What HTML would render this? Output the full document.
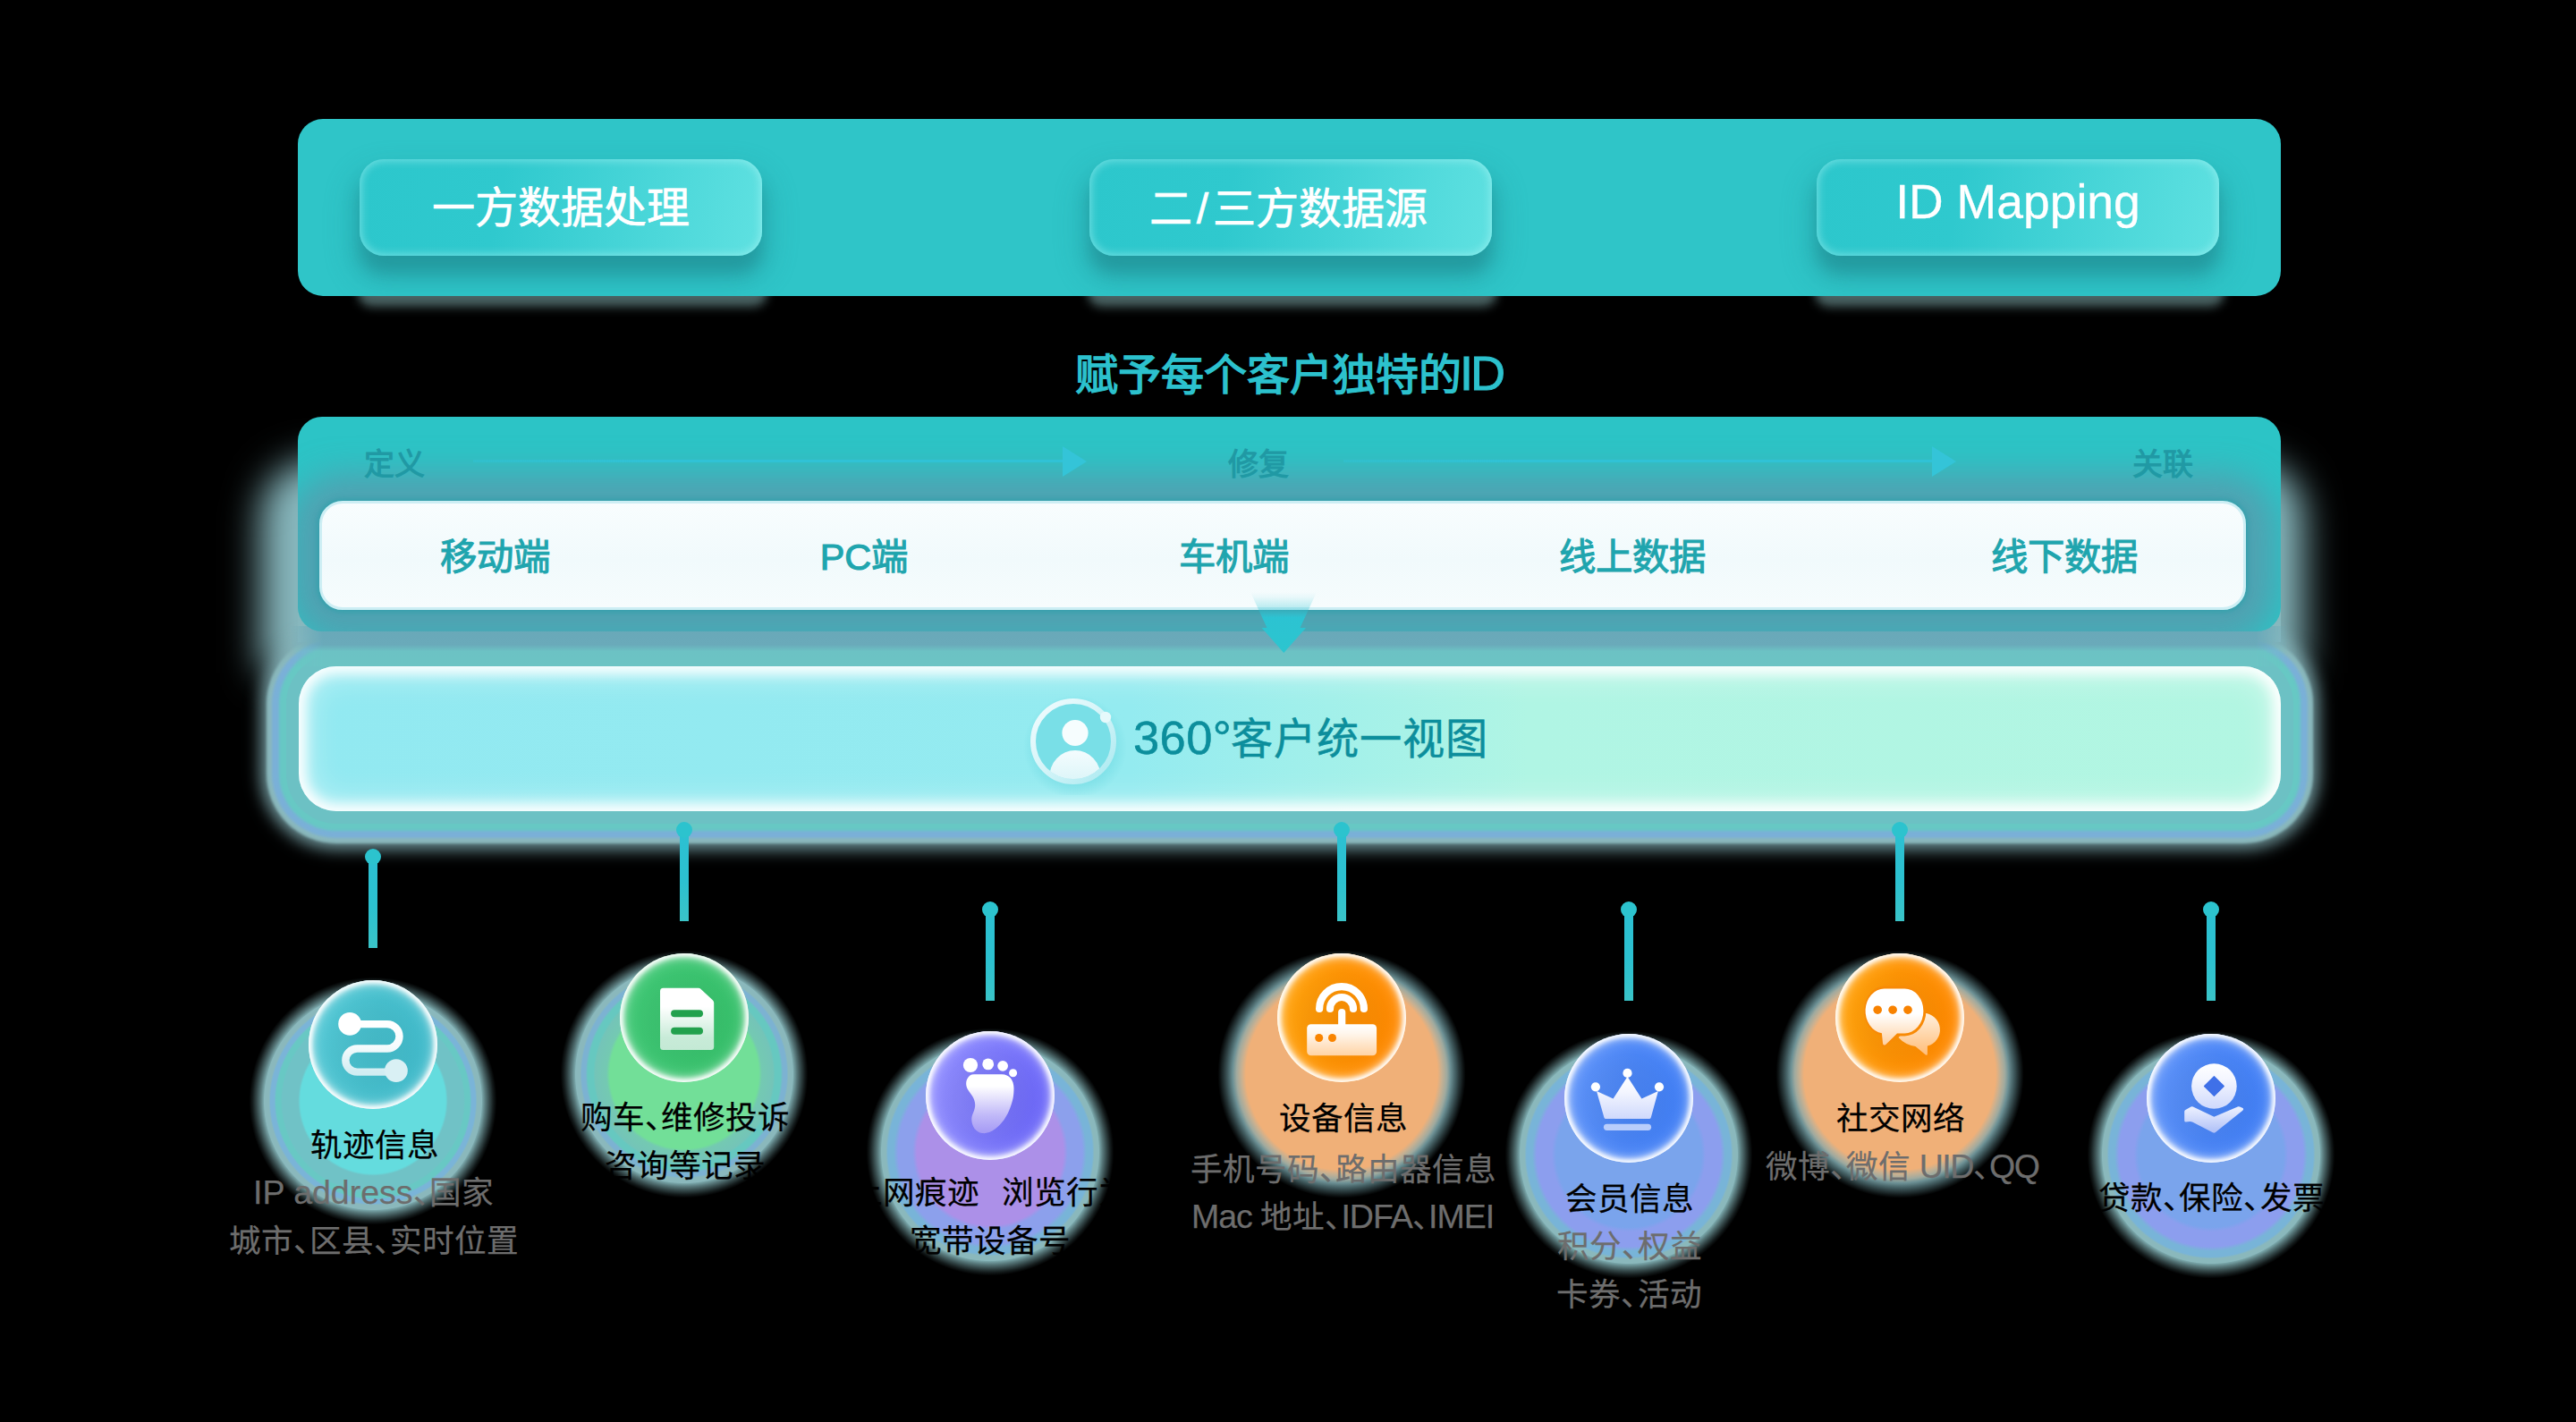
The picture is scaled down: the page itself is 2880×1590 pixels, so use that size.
<!DOCTYPE html>
<html lang="zh-CN">
<head>
<meta charset="utf-8">
<title>ID Mapping</title>
<style>
html,body{margin:0;padding:0;background:#000;}
body{width:2880px;height:1590px;position:relative;overflow:hidden;font-family:"Liberation Sans",sans-serif;}
.abs{position:absolute;}
/* ---------- top banner ---------- */
#banner{position:absolute;left:333px;top:133px;width:2217px;height:198px;border-radius:28px;background:#2fc5c8;}
.btn{position:absolute;top:45px;width:450px;height:108px;border-radius:27px;box-sizing:border-box;
  background:linear-gradient(100deg,#2cc7cc 0%,#2fc9ce 35%,#5fe1e1 100%);
  box-shadow:0 20px 18px 0 rgba(26,112,118,.36),0 20px 32px 8px rgba(30,140,146,.32),inset 0 0 10px 2px rgba(190,250,250,.45);
  color:#fff;font-size:48px;line-height:108px;-webkit-text-stroke:.7px #fff;text-align:center;white-space:nowrap;}
.spill{position:absolute;top:316px;width:440px;height:14px;border-radius:14px;box-shadow:0 4px 11px 9px rgba(150,196,196,.5);}
/* ---------- title ---------- */
#title{position:absolute;left:941px;top:376.5px;width:1000px;height:80px;line-height:80px;text-align:center;
  font-size:48px;font-weight:bold;color:#2cc1cd;white-space:nowrap;}
#title span{font-size:54px;font-weight:normal;-webkit-text-stroke:1px #2cc1cd;letter-spacing:-3px;margin-left:-2px;}
/* ---------- panel 2 ---------- */
#p2glow{position:absolute;left:333px;top:548px;width:2217px;height:170px;border-radius:30px 30px 0 0;
  background:#88b8be;box-shadow:-8px 0 40px 34px rgba(136,184,190,1);}
#p2{position:absolute;left:333px;top:466px;width:2217px;height:240px;border-radius:27px;background:#2cc4c6;overflow:hidden;}
#p2 .shade{position:absolute;left:24px;top:94px;width:2154px;height:122px;border-radius:26px;
  box-shadow:0 4px 36px 34px rgba(104,140,164,.62);}
#p2box{position:absolute;left:357px;top:560px;width:2154px;height:122px;border-radius:26px;box-sizing:border-box;
  border:3px solid #cdeef4;background:linear-gradient(180deg,#f8fdfe 0%,#f1fafc 55%,#f6fcfd 100%);box-shadow:0 0 5px 3px rgba(36,160,170,.55);}
.step{position:absolute;top:489px;height:60px;line-height:60px;font-size:34px;font-weight:bold;color:#2099a4;white-space:nowrap;}
.p2t{position:absolute;top:588px;height:70px;line-height:70px;width:400px;text-align:center;font-size:41.4px;font-weight:normal;-webkit-text-stroke:1.1px #1fa5ae;color:#1fa5ae;white-space:nowrap;}
.hline{position:absolute;height:3.4px;top:513.8px;background:linear-gradient(90deg,rgba(48,194,214,.5),#30c2d6 30%);}
.htri{position:absolute;top:498.6px;width:0;height:0;border-left:27px solid #34c4d8;border-top:17px solid transparent;border-bottom:17px solid transparent;}
/* ---------- panel 3 ---------- */
#p3{position:absolute;left:334px;top:745px;width:2216px;height:162px;border-radius:42px;
  background:linear-gradient(90deg,#92e9f1 0%,#94ebf0 42%,#b0f5e4 62%,#b2f6e2 100%);
  box-shadow:inset 0 0 14px 8px rgba(255,255,255,.95),inset 0 0 34px 10px rgba(255,255,255,.45),
   0 0 0 14px #6cc1c4,0 0 3px 22px #67c8c4,0 0 3px 30px #7ab0d8,0 0 3px 36px #8ab8bc,0 0 17px 43px rgba(138,186,192,.78);}
#strip{position:absolute;left:325px;top:700px;width:2233px;-webkit-mask-image:linear-gradient(90deg,transparent 0,#000 36px,#000 2197px,transparent 2233px);mask-image:linear-gradient(90deg,transparent 0,#000 36px,#000 2197px,transparent 2233px);height:45px;background:linear-gradient(180deg,#69a8b8 0,#6aaaba 21px,#6cc2c4 28px,#6cc4c4 45px);}
#p3t{position:absolute;left:1267px;top:783px;height:84px;line-height:84px;font-size:47.2px;letter-spacing:1px;color:#0c8e9c;white-space:nowrap;-webkit-text-stroke:.5px #0c8e9c;}
#p3t span{font-size:52.5px;letter-spacing:.4px;margin-right:-1px;}

/* ---------- connectors ---------- */
.cn{position:absolute;width:10px;height:102px;margin-left:-5px;background:linear-gradient(180deg,#2cc0d2 0%,#2cc1d0 55%,#3ac4c8 100%);}
.cn:before{content:"";position:absolute;left:-4px;top:-9px;width:18px;height:18px;border-radius:50%;background:#2cc3ce;}
/* ---------- icon glows ---------- */
.glow{position:absolute;width:280px;height:280px;margin-left:-140px;margin-top:-77px;border-radius:50%;}
.g-cyan{background:radial-gradient(circle closest-side,#64dcde 0,#64dcde 58%,#70c2c6 59.8%,#70c2c6 72.4%,#68c8c4 73.6%,#68c8c4 77.4%,#7ab4d8 78.8%,#7ab4d8 81.8%,#8ab8bc 83.2%,#8ab8bc 86.8%,rgba(140,192,196,.86) 87.4%,rgba(140,192,196,.62) 90%,rgba(140,192,196,.36) 93.2%,rgba(140,192,196,.14) 96.2%,rgba(140,192,196,0) 98.8%);}
.g-green{background:radial-gradient(circle closest-side,#72df98 0,#72df98 59.5%,#74c9b2 62%,#74c4b8 71%,#66c8c0 72.6%,#66c8c0 77%,#7cb2d2 78.8%,#7cb2d2 81.8%,#8ab8bc 83.2%,#8ab8bc 86.8%,rgba(140,192,196,.86) 87.4%,rgba(140,192,196,.62) 90%,rgba(140,192,196,.36) 93.2%,rgba(140,192,196,.14) 96.2%,rgba(140,192,196,0) 98.8%);}
.g-purple{background:radial-gradient(circle closest-side,#ac90e8 0,#ac90e8 58.5%,#8ca0ec 62%,#8ca0ec 73.5%,#78b4d8 77%,#78b4d8 81.6%,#8ab8bc 83.2%,#8ab8bc 86.8%,rgba(140,192,196,.86) 87.4%,rgba(140,192,196,.62) 90%,rgba(140,192,196,.36) 93.2%,rgba(140,192,196,.14) 96.2%,rgba(140,192,196,0) 98.8%);}
.g-orange{background:radial-gradient(circle closest-side,#f0b078 0,#f0b078 76.5%,rgba(206,182,150,.97) 80%,rgba(176,188,176,.9) 84%,rgba(150,200,206,.72) 87%,rgba(140,196,204,.5) 90.5%,rgba(140,196,204,.28) 94%,rgba(140,196,204,.1) 97%,rgba(140,196,204,0) 99%);}
.g-blue{background:radial-gradient(circle closest-side,#7aa4ec 0,#7aa4ec 58%,#8c9eee 61.5%,#8c9eee 73.5%,#78b4d8 77%,#78b4d8 81.6%,#8ab8bc 83.2%,#8ab8bc 86.8%,rgba(140,192,196,.86) 87.4%,rgba(140,192,196,.62) 90%,rgba(140,192,196,.36) 93.2%,rgba(140,192,196,.14) 96.2%,rgba(140,192,196,0) 98.8%);}
/* ---------- icon circles ---------- */
.ic{position:absolute;width:144px;height:144px;margin-left:-72px;margin-top:-72px;border-radius:50%;
  box-shadow:inset 0 0 5px 2.5px #fff,inset 0 0 9px 4px rgba(255,255,255,.75),inset 0 0 18px 5px rgba(255,255,255,.3);}
.ic svg{position:absolute;left:0;top:0;width:144px;height:144px;}
.i-cyan{background:linear-gradient(100deg,#56cad7 0%,#47c0ce 50%,#40bacb 100%);}
.i-green{background:linear-gradient(100deg,#40c976 0%,#36c06a 100%);}
.i-purple{background:linear-gradient(100deg,#9592ff 0%,#7f7cfc 45%,#6661f8 100%);}
.i-orange{background:linear-gradient(100deg,#ffa60e 0%,#ff9404 45%,#ff8600 100%);}
.i-blue{background:linear-gradient(100deg,#6296fa 0%,#4b86f7 50%,#3f7ef6 100%);}
/* ---------- labels ---------- */
.lb{position:absolute;width:600px;margin-left:-300px;height:54px;line-height:54px;text-align:center;font-size:35.6px;color:#000;white-space:nowrap;-webkit-text-stroke:.25px #000;}
.gr{color:#6d6d6d;-webkit-text-stroke:.25px #6d6d6d;}
.la{font-size:37.5px;letter-spacing:0;}
#t4c .la{letter-spacing:-1px;}
#t6b .la{letter-spacing:-1.5px;}
.c{margin-right:-.5em;}
</style>
</head>
<body>

<svg width="0" height="0" style="position:absolute">
  <defs>
    <linearGradient id="gw-cyan" x1="0" y1="0" x2="0" y2="1"><stop offset="0" stop-color="#fff"/><stop offset=".45" stop-color="#f6fcfd"/><stop offset="1" stop-color="#d2edf2"/></linearGradient>
    <linearGradient id="gw-green" x1="0" y1="0" x2="0" y2="1"><stop offset="0" stop-color="#fff"/><stop offset=".3" stop-color="#fff"/><stop offset=".8" stop-color="#c8ebd8"/><stop offset="1" stop-color="#c4e9d5"/></linearGradient>
    <linearGradient id="gw-purple" x1="0" y1="0" x2="0" y2="1"><stop offset="0" stop-color="#fff"/><stop offset=".2" stop-color="#fff"/><stop offset=".7" stop-color="#c0b8f8"/><stop offset="1" stop-color="#a59af5"/></linearGradient>
    <linearGradient id="gw-orange" x1="0" y1="0" x2="0" y2="1"><stop offset="0" stop-color="#fff"/><stop offset=".3" stop-color="#fff6ec"/><stop offset="1" stop-color="#ffd3a4"/></linearGradient>
    <linearGradient id="gw-orange2" x1="0" y1="0" x2="0" y2="1"><stop offset="0" stop-color="#fff"/><stop offset=".45" stop-color="#fff"/><stop offset="1" stop-color="#ffd0a0"/></linearGradient>
    <linearGradient id="gw-orange3" x1="0" y1="0" x2="0" y2="1"><stop offset="0" stop-color="#fff0de"/><stop offset="1" stop-color="#ffbd78"/></linearGradient>
    <linearGradient id="gw-blue" x1="0" y1="0" x2="0" y2="1"><stop offset="0" stop-color="#fff"/><stop offset=".35" stop-color="#f4f6ff"/><stop offset="1" stop-color="#cfd9fc"/></linearGradient>
    <linearGradient id="gw-blue2" x1="0" y1="0" x2="0" y2="1"><stop offset="0" stop-color="#eef2ff"/><stop offset="1" stop-color="#aebff7"/></linearGradient>
    <radialGradient id="sh" cx=".5" cy=".52" r=".5"><stop offset="0" stop-color="#000" stop-opacity=".05"/><stop offset=".55" stop-color="#000" stop-opacity=".03"/><stop offset=".85" stop-color="#000" stop-opacity="0"/></radialGradient>
  </defs>
</svg>

<!-- top banner -->
<div class="spill" style="left:409px"></div><div class="spill" style="left:1225px"></div><div class="spill" style="left:2038px"></div>
<div id="banner">
  <div class="btn" style="left:69px"><span style="position:relative;top:1px">一方数据处理</span></div>
  <div class="btn" style="left:885px"><span style="position:relative;top:1.5px;left:-2.5px">二<span style="margin:0 4.5px">/</span>三方数据源</span></div>
  <div class="btn" style="left:1698px"><span style="position:relative;top:-6px;font-size:53.5px;-webkit-text-stroke:.3px #fff">ID Mapping</span></div>
</div>

<div id="title">赋予每个客户独特的<span>ID</span></div>

<!-- panel 2 -->
<div id="p2glow"></div>
<div id="p3"></div>
<div id="strip"></div>
<div id="p2"><div class="shade"></div></div>
<div id="p2box"></div>
<div class="step" style="left:407px">定义</div>
<div class="step" style="left:1373px">修复</div>
<div class="step" style="left:2384px">关联</div>
<div class="hline" style="left:529px;width:662px"></div><div class="htri" style="left:1188px"></div>
<div class="hline" style="left:1502px;width:660px"></div><div class="htri" style="left:2160px"></div>
<div class="p2t" style="left:353px">移动端</div>
<div class="p2t" style="left:766px">PC端</div>
<div class="p2t" style="left:1179px">车机端</div>
<div class="p2t" style="left:1625px">线上数据</div>
<div class="p2t" style="left:2108px">线下数据</div>

<!-- panel 3 -->

<!-- down arrow -->
<svg class="abs" style="left:1390px;top:655px" width="90" height="80" viewBox="0 0 90 80">
  <defs><linearGradient id="da" x1="0" y1="0" x2="0" y2="1">
    <stop offset="0" stop-color="#2cc3d2" stop-opacity="0"/><stop offset=".08" stop-color="#2cc3d2" stop-opacity=".06"/>
    <stop offset=".3" stop-color="#2cc3d2" stop-opacity=".35"/><stop offset=".42" stop-color="#2cc3d2" stop-opacity="1"/><stop offset="1" stop-color="#2cc5cf" stop-opacity="1"/>
  </linearGradient></defs>
  <path d="M8 7 L82 7 L63.5 47 L70 47 L45.3 75 L20.7 47 L26.5 47 Z" fill="url(#da)"/>
</svg>
<!-- user icon -->
<svg class="abs" style="left:1140px;top:769px" width="120" height="120" viewBox="0 0 120 120">
  <defs>
    <linearGradient id="ub" x1="0" y1="0" x2="0" y2="1"><stop offset="0" stop-color="#f4fcfe"/><stop offset="1" stop-color="#c9f0f4"/></linearGradient>
    <linearGradient id="ur" x1="0" y1="0" x2="1" y2="1"><stop offset="0" stop-color="#f2fcfe"/><stop offset=".5" stop-color="#d4f4f8"/><stop offset="1" stop-color="#a8e9f0"/></linearGradient>
    <radialGradient id="us" cx=".5" cy=".5" r=".5"><stop offset=".6" stop-color="#5fd2dc" stop-opacity=".55"/><stop offset="1" stop-color="#5fd2dc" stop-opacity="0"/></radialGradient>
    <clipPath id="uc"><circle cx="60" cy="60" r="42.5"/></clipPath>
  </defs>
  <circle cx="62" cy="66" r="58" fill="url(#us)"/>
  <circle cx="60" cy="60" r="43" fill="#79dfe7"/>
  <g clip-path="url(#uc)"><ellipse cx="62" cy="101" rx="29" ry="31" fill="url(#ub)"/></g>
  <circle cx="62" cy="50.5" r="14.6" fill="#f6fdfe"/>
  <circle cx="60" cy="60" r="45" fill="none" stroke="url(#ur)" stroke-width="6"/>
  <circle cx="96" cy="33" r="6.2" fill="#e6f9fb"/>
</svg>
<div id="p3t"><span>360°</span>客户统一视图</div>

<div class="cn" style="left:417px;top:958px"></div>
<div class="glow g-cyan" style="left:417px;top:1168px"></div>
<div class="ic i-cyan" style="left:417px;top:1168px"><svg viewBox="0 0 144 144"><circle cx="72" cy="72" r="72" fill="url(#sh)"/>
<path d="M46 49.1H87.8A13.7 13.7 0 0 1 87.8 76.5H54.4A13.05 13.05 0 0 0 54.4 102.6H98" fill="none" stroke="url(#gw-cyan)" stroke-width="8.4" stroke-linecap="round"/>
<circle cx="46.1" cy="48.9" r="12.9" fill="#fff"/><circle cx="97.9" cy="101.2" r="12.9" fill="#d9f0f4"/></svg></div>
<div class="cn" style="left:765px;top:928px"></div>
<div class="glow g-green" style="left:765px;top:1138px"></div>
<div class="ic i-green" style="left:765px;top:1138px"><svg viewBox="0 0 144 144"><circle cx="72" cy="72" r="72" fill="url(#sh)"/>
<path d="M48.5 38.8H87.8Q89.4 38.8 90.6 40L103.8 52.2Q105.2 53.5 105.2 55.2V104.5Q105.2 108 101.7 108H48.5Q45 108 45 104.5V42.3Q45 38.8 48.5 38.8Z" fill="url(#gw-green)"/>
<rect x="57.1" y="63.2" width="35.9" height="8" rx="4" fill="#22a14d"/><rect x="57.1" y="82.8" width="35.9" height="8" rx="4" fill="#22a14d"/></svg></div>
<div class="cn" style="left:1107px;top:1017px"></div>
<div class="glow g-purple" style="left:1107px;top:1225px"></div>
<div class="ic i-purple" style="left:1107px;top:1225px"><svg viewBox="0 0 144 144"><circle cx="72" cy="72" r="72" fill="url(#sh)"/>
<circle cx="50" cy="38" r="8.1" fill="#fff"/><circle cx="69.7" cy="36.9" r="6.4" fill="#fff"/><circle cx="86.1" cy="38.8" r="5.9" fill="#fff"/><circle cx="97.6" cy="46.7" r="4.5" fill="#fff"/>
<path d="M54 48.2H85C93.5 48.2 98.5 54.5 98.5 64C98.5 72 97.5 77 95 84C91 96 84.5 104 78 109C72 113.5 67 114.6 63 114C56 113 51.5 106.5 51.3 99C51 93 55.5 88.5 55.2 82C55 75 50.5 70.5 47.5 66C44.5 61.5 44.8 56.5 46.3 53.5C48 50 50.5 48.2 54 48.2Z" fill="url(#gw-purple)"/></svg></div>
<div class="cn" style="left:1500px;top:928px"></div>
<div class="glow g-orange" style="left:1500px;top:1138px"></div>
<div class="ic i-orange" style="left:1500px;top:1138px"><svg viewBox="0 0 144 144"><circle cx="72" cy="72" r="72" fill="url(#sh)"/>
<path d="M47.1 62A24.9 24.9 0 0 1 96.9 62" fill="none" stroke="#fff" stroke-width="8.2" stroke-linecap="round"/>
<path d="M59 62A13 13 0 0 1 85 62" fill="none" stroke="#fff" stroke-width="8.2" stroke-linecap="round"/>
<path d="M72.2 66V82" fill="none" stroke="#fff" stroke-width="8.2" stroke-linecap="round"/>
<rect x="33.2" y="79.3" width="77.9" height="34.9" rx="4.5" fill="url(#gw-orange)"/>
<circle cx="46.7" cy="94.5" r="4.5" fill="#f98400"/><circle cx="61.5" cy="94.5" r="4.5" fill="#f98400"/></svg></div>
<div class="cn" style="left:1821px;top:1017px"></div>
<div class="glow g-blue" style="left:1821px;top:1228px"></div>
<div class="ic i-blue" style="left:1821px;top:1228px"><svg viewBox="0 0 144 144"><circle cx="72" cy="72" r="72" fill="url(#sh)"/>
<path d="M36 64.1L54.6 72.5L70.5 47.8L86.4 72.5L104.9 64.1L96.8 93.5Q96.4 95 94.8 95H46.4Q44.8 95 44.4 93.5Z" fill="url(#gw-blue)"/>
<circle cx="70.5" cy="43.9" r="5.1" fill="#fff"/><circle cx="34.9" cy="59.3" r="5.1" fill="#fff"/><circle cx="106" cy="59.3" r="5.1" fill="#fff"/>
<rect x="43.9" y="100.7" width="53.2" height="7.3" rx="3.65" fill="#b9cdfb"/></svg></div>
<div class="cn" style="left:2124px;top:928px"></div>
<div class="glow g-orange" style="left:2124px;top:1138px"></div>
<div class="ic i-orange" style="left:2124px;top:1138px"><svg viewBox="0 0 144 144"><circle cx="72" cy="72" r="72" fill="url(#sh)"/>
<path d="M98.4 66.8A18.7 18.7 0 0 1 102.9 103.6V112.2Q102.9 114.6 100.9 113.4L89.5 103.9A30 30 0 0 1 70.5 94Z" fill="url(#gw-orange3)"/>
<path d="M54.6 36.4H77.4A24 28 0 0 1 77.4 92.4H70.5L57.3 103.4Q51.6 106.4 51.6 101.4L50.2 91.5A24 28 0 0 1 54.6 36.4Z" fill="#f88a06"/>
<path d="M54.6 39.4H77.4A21 25 0 0 1 77.4 89.4H69L56.3 101.9Q53.2 103.7 53 100.5L51.9 89.2A21 25 0 0 1 54.6 39.4Z" fill="url(#gw-orange2)"/>
<circle cx="47.2" cy="63.2" r="4.8" fill="#f88200"/><circle cx="64.1" cy="63.2" r="4.8" fill="#f88200"/><circle cx="81" cy="63.2" r="4.8" fill="#f88200"/></svg></div>
<div class="cn" style="left:2472px;top:1017px"></div>
<div class="glow g-blue" style="left:2472px;top:1228px"></div>
<div class="ic i-blue" style="left:2472px;top:1228px"><svg viewBox="0 0 144 144"><circle cx="72" cy="72" r="72" fill="url(#sh)"/>
<circle cx="75.4" cy="58.5" r="25.3" fill="url(#gw-blue)"/>
<path d="M75.4 47.6L86.3 58.5L75.4 69.4L64.5 58.5Z" fill="#3f70e8" stroke="#3f70e8" stroke-width="1.2" stroke-linejoin="round"/>
<path d="M43.4 84.9L49.6 81.5Q50.7 81 51.8 81.5L75.4 92.8L101.8 81.4Q102.9 81 104 81.4L107 82.7Q109.2 83.8 107.3 85.7L77 110Q75.4 111.2 73.8 110.2L51 98.4Q49.8 97.9 48.6 97.9L43.8 98.4Q42.2 98.5 42.2 96.9V86.8Q42.2 85.5 43.4 84.9Z" fill="url(#gw-blue2)"/></svg></div>
<div id="t1" class="lb" style="left:418.5px;top:1254.1px">轨迹信息</div>
<div id="t1b" class="lb gr" style="left:417.4px;top:1306.4px"><span class="la">IP address</span><span class="c">、</span>国家</div>
<div id="t1c" class="lb gr" style="left:418.0px;top:1361.2px">城市<span class="c">、</span>区县<span class="c">、</span>实时位置</div>
<div id="t2" class="lb" style="left:766.2px;top:1223.2px">购车<span class="c">、</span>维修投诉</div>
<div id="t2b" class="lb" style="left:766.2px;top:1277.0px">咨询等记录</div>
<div id="t3" class="lb" style="left:1107.1px;top:1307.0px">上网痕迹<span style="display:inline-block;width:25px"></span>浏览行为</div>
<div id="t3b" class="lb" style="left:1106.8px;top:1361.4px">宽带设备号</div>
<div id="t4" class="lb" style="left:1502.3px;top:1224.3px">设备信息</div>
<div id="t4b" class="lb gr" style="left:1501.7px;top:1281.1px">手机号码<span class="c">、</span>路由器信息</div>
<div id="t4c" class="lb gr" style="left:1501.0px;top:1333.0px"><span class="la">Mac </span>地址<span class="c">、</span><span class="la">IDFA</span><span class="c">、</span><span class="la">IMEI</span></div>
<div id="t5" class="lb" style="left:1822.1px;top:1313.9px">会员信息</div>
<div id="t5b" class="lb gr" style="left:1821.9px;top:1367.0px">积分<span class="c">、</span>权益</div>
<div id="t5c" class="lb gr" style="left:1821.6px;top:1421.0px">卡券<span class="c">、</span>活动</div>
<div id="t6" class="lb" style="left:2124.6px;top:1223.7px">社交网络</div>
<div id="t6b" class="lb gr" style="left:2126.5px;top:1276.6px">微博<span class="c">、</span>微信 <span class="la">UID</span><span class="c">、</span><span class="la">QQ</span></div>
<div id="t7" class="lb" style="left:2472.4px;top:1313.0px">贷款<span class="c">、</span>保险<span class="c">、</span>发票</div>
</body>
</html>
